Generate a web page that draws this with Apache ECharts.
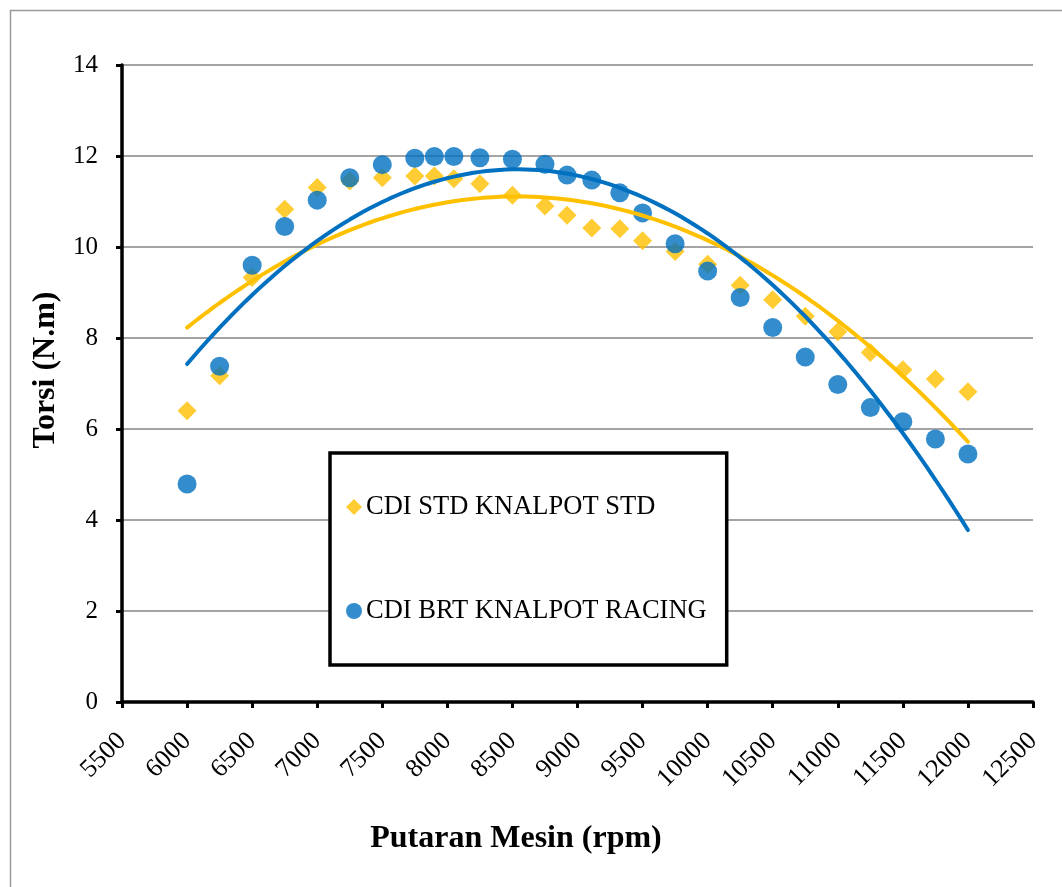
<!DOCTYPE html>
<html>
<head>
<meta charset="utf-8">
<script src="https://cdn.jsdelivr.net/npm/echarts@6/dist/echarts.min.js"></script>
<style>
html,body{margin:0;padding:0;background:#fff;}
#chart{width:1062px;height:887px;}
</style>
</head>
<body>
<div id="chart"></div>
<script>
// ---- data ----
const rpm = [6000, 6250, 6500, 6750, 7000, 7250, 7500, 7750, 7900, 8050, 8250, 8500, 8750, 8920, 9110, 9325, 9500, 9750, 10000, 10250, 10500, 10750, 11000, 11250, 11500, 11750, 12000];
const torsiStd = [6.40, 7.17, 9.33, 10.83, 11.31, 11.45, 11.52, 11.56, 11.56, 11.50, 11.39, 11.14, 10.90, 10.70, 10.42, 10.40, 10.14, 9.90, 9.62, 9.16, 8.84, 8.48, 8.14, 7.68, 7.30, 7.10, 6.82];
const torsiRacing = [4.79, 7.38, 9.60, 10.45, 11.03, 11.52, 11.81, 11.95, 11.99, 11.99, 11.96, 11.93, 11.82, 11.58, 11.47, 11.19, 10.75, 10.07, 9.47, 8.89, 8.23, 7.58, 6.98, 6.47, 6.16, 5.78, 5.45];
const seriesNames = ['CDI STD KNALPOT STD', 'CDI BRT KNALPOT RACING'];
const xTitle = 'Putaran Mesin (rpm)';
const yTitle = 'Torsi (N.m)';

// ---- order-2 polynomial trendline (least squares, like the spreadsheet trendline) ----
function polyFit2(xs, ys) {
  const n = xs.length;
  const xm = xs.reduce((a, b) => a + b, 0) / n;
  let S = [0, 0, 0, 0, 0], T = [0, 0, 0];
  for (let i = 0; i < n; i++) {
    const u = (xs[i] - xm) / 1000;
    let p = 1;
    for (let k = 0; k < 5; k++) { S[k] += p; if (k < 3) T[k] += p * ys[i]; p *= u; }
  }
  const A = [[S[0], S[1], S[2], T[0]], [S[1], S[2], S[3], T[1]], [S[2], S[3], S[4], T[2]]];
  for (let c = 0; c < 3; c++) {
    for (let r = c + 1; r < 3; r++) {
      const f = A[r][c] / A[c][c];
      for (let k = c; k < 4; k++) A[r][k] -= f * A[c][k];
    }
  }
  const coef = [0, 0, 0];
  for (let r = 2; r >= 0; r--) {
    let s = A[r][3];
    for (let k = r + 1; k < 3; k++) s -= A[r][k] * coef[k];
    coef[r] = s / A[r][r];
  }
  return x => { const u = (x - xm) / 1000; return coef[0] + coef[1] * u + coef[2] * u * u; };
}
function trend(xs, ys) {
  const f = polyFit2(xs, ys);
  const out = [];
  const x0 = xs[0], x1 = xs[xs.length - 1];
  for (let x = x0; x <= x1; x += 50) out.push([x, f(x)]);
  return out;
}

const YELLOW = '#FFC000', BLUE = '#0070C0';
const chart = echarts.init(document.getElementById('chart'), null, {renderer: 'canvas'});
const font = '"Liberation Serif", "Times New Roman", serif';

chart.setOption({
  backgroundColor: '#ffffff',
  animation: false,
  textStyle: {fontFamily: font},
  grid: {left: 122, right: 29, top: 65, bottom: 185, containLabel: false},
  xAxis: {
    type: 'value', min: 5500, max: 12500, interval: 500,
    axisLine: {show: true, lineStyle: {color: '#000', width: 3.5}},
    axisTick: {show: true, length: 6, lineStyle: {color: '#000', width: 3}},
    axisLabel: {rotate: 45, margin: 35, color: '#000', fontSize: 26, fontFamily: font, formatter: v => String(v)},
    splitLine: {show: false}
  },
  yAxis: {
    type: 'value', min: 0, max: 14, interval: 2,
    axisLine: {show: true, lineStyle: {color: '#000', width: 3.5}},
    axisTick: {show: true, length: 6, lineStyle: {color: '#000', width: 3}},
    axisLabel: {margin: 24, color: '#000', fontSize: 25, fontFamily: font},
    splitLine: {show: true, lineStyle: {color: '#868686', width: 1.5}}
  },
  legend: {
    data: [{name: seriesNames[0], icon: 'diamond'}, {name: seriesNames[1], icon: 'circle'}],
    orient: 'vertical',
    left: 330, top: 453,
    padding: [39, 20, 39, 16],
    itemGap: 74,
    itemWidth: 16, itemHeight: 16,
    itemStyle: {borderWidth: 0},
    textStyle: {fontSize: 26.5, color: '#000', fontFamily: font, lineHeight: 30, padding: [0, 0, 0, -1]},
    backgroundColor: '#fff',
    borderColor: '#000', borderWidth: 3.5, borderRadius: 0
  },
  graphic: [
    {type: 'rect', shape: {x: 10.5, y: 10.5, width: 1070, height: 900}, style: {fill: 'none', stroke: '#9a9a9a', lineWidth: 1.5}, z: -10, silent: true},
    {type: 'text', x: 516, y: 839, style: {text: xTitle, font: 'bold 32px ' + font, fill: '#000', textAlign: 'center', textVerticalAlign: 'middle'}},
    {type: 'text', x: 46, y: 370, rotation: Math.PI / 2, style: {text: yTitle, font: 'bold 32px ' + font, fill: '#000', textAlign: 'center', textVerticalAlign: 'middle'}}
  ],
  series: [
    {name: seriesNames[0], type: 'scatter', symbol: 'diamond', symbolSize: 19,
     itemStyle: {color: YELLOW}, data: rpm.map((x, i) => [x, torsiStd[i]]), z: 3},
    {name: seriesNames[1], type: 'scatter', symbol: 'circle', symbolSize: 19,
     itemStyle: {color: BLUE}, data: rpm.map((x, i) => [x, torsiRacing[i]]), z: 3},
    {name: 'trend-std', type: 'line', showSymbol: false, symbol: 'none', smooth: false,
     lineStyle: {color: YELLOW, width: 4, cap: 'round'}, data: trend(rpm, torsiStd), z: 4},
    {name: 'trend-racing', type: 'line', showSymbol: false, symbol: 'none', smooth: false,
     lineStyle: {color: BLUE, width: 4, cap: 'round'}, data: trend(rpm, torsiRacing), z: 4}
  ]
});
</script>
</body>
</html>
